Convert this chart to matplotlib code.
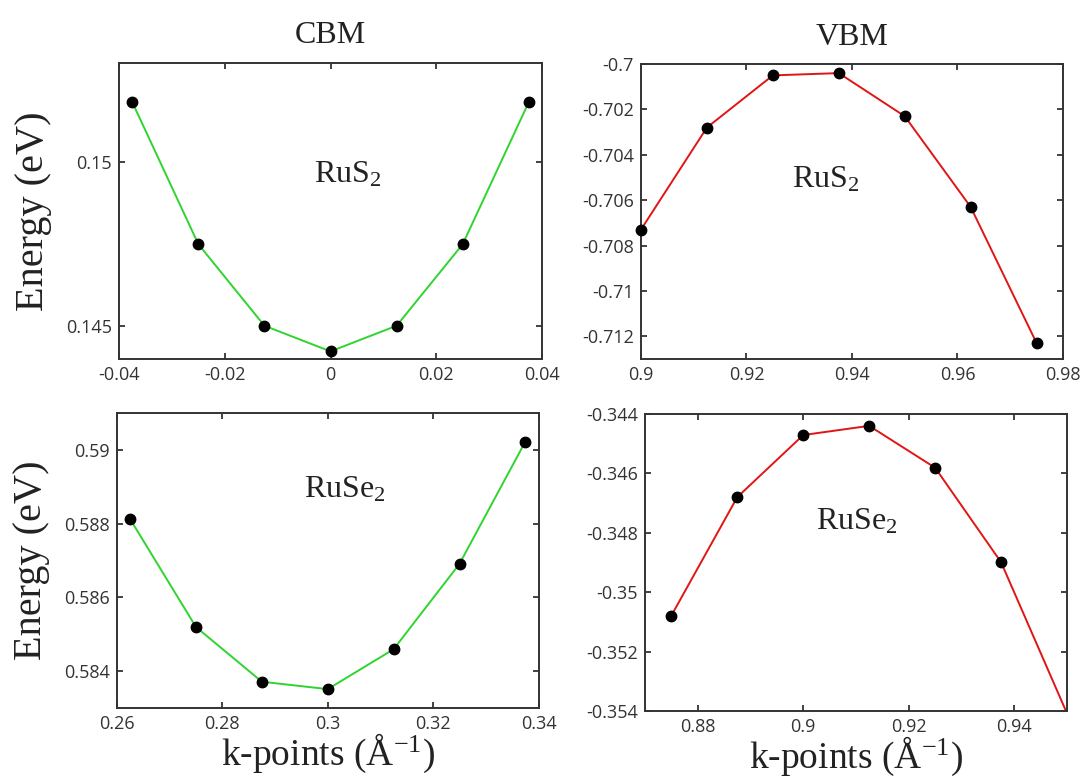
import numpy as np
import matplotlib
matplotlib.use('Agg')
import matplotlib.pyplot as plt
from matplotlib.ticker import MultipleLocator, FuncFormatter

# Datos (k en 1/A, energia en eV)
k_cbm_rus2 = [-0.0375, -0.025, -0.0125, 0.0, 0.0125, 0.025, 0.0375]
e_cbm_rus2 = [0.15181, 0.14749, 0.14501, 0.14423, 0.14501, 0.14749, 0.15181]

k_vbm_rus2 = [0.9, 0.9125, 0.925, 0.9375, 0.95, 0.9625, 0.975]
e_vbm_rus2 = [-0.7073, -0.7028, -0.7005, -0.7004, -0.7023, -0.7063, -0.7123]

k_cbm_ruse2 = [0.2625, 0.275, 0.2875, 0.3, 0.3125, 0.325, 0.3375]
e_cbm_ruse2 = [0.58812, 0.5852, 0.58372, 0.58352, 0.5846, 0.58691, 0.59022]

k_vbm_ruse2 = [0.875, 0.8875, 0.9, 0.9125, 0.925, 0.9375, 0.95]
e_vbm_ruse2 = [-0.35079, -0.3468, -0.34471, -0.3444, -0.34581, -0.34899, -0.35408]

titulos = ['CBM', 'VBM']
materiales = ['RuS$_2$', 'RuSe$_2$']

plt.rcParams['font.family'] = ['Open Sans', 'DejaVu Sans']
plt.rcParams['mathtext.fontset'] = 'custom'
plt.rcParams['mathtext.rm'] = 'Liberation Serif'
plt.rcParams['mathtext.it'] = 'Liberation Serif:italic'
serif = 'Liberation Serif'

fig = plt.figure(figsize=(10.86, 7.79), dpi=100)

# [izq, abajo, ancho, alto] en fraccion de figura
cajas = [[0.1096, 0.5392, 0.3895, 0.3800],
         [0.5902, 0.5392, 0.3886, 0.3786],
         [0.1077, 0.0907, 0.3882, 0.3795],
         [0.5939, 0.0873, 0.3886, 0.3813]]

paneles = [
    (k_cbm_rus2, e_cbm_rus2, '#2fd42f', (-0.04, 0.04), (0.144, 0.153), 0.02, 0.005, materiales[0], (0.541, 0.622)),
    (k_vbm_rus2, e_vbm_rus2, '#e01515', (0.9, 0.98), (-0.713, -0.7), 0.02, 0.002, materiales[0], (0.437, 0.607)),
    (k_cbm_ruse2, e_cbm_ruse2, '#2fd42f', (0.26, 0.34), (0.583, 0.591), 0.02, 0.002, materiales[1], (0.54, 0.738)),
    (k_vbm_ruse2, e_vbm_ruse2, '#e01515', (0.87, 0.95), (-0.354, -0.344), 0.02, 0.002, materiales[1], (0.502, 0.637)),
]

fmt = FuncFormatter(lambda v, p: f'{round(v, 6) + 0.0:g}')

for i, (k, e, color, xl, yl, dx, dy, nombre, pos) in enumerate(paneles):
    ax = fig.add_axes(cajas[i])
    k = np.array(k)
    e = np.array(e)
    ax.plot(k, e, '-', color=color, lw=1.4, zorder=2)
    dentro = (e >= yl[0]) & (e <= yl[1]) & (k >= xl[0]) & (k <= xl[1])
    ax.plot(k[dentro], e[dentro], 'o', color='black', ms=7.5, clip_on=False, zorder=3)
    ax.set_xlim(xl)
    ax.set_ylim(yl)
    ax.xaxis.set_major_locator(MultipleLocator(dx))
    ax.yaxis.set_major_locator(MultipleLocator(dy))
    ax.xaxis.set_major_formatter(fmt)
    ax.yaxis.set_major_formatter(fmt)
    ax.tick_params(direction='in', length=4, width=1.2, top=True, right=True,
                   labelsize=13, labelcolor='#333333', color='#222222', pad=5)
    for s in ax.spines.values():
        s.set_linewidth(1.4)
        s.set_color('#333333')
    ax.text(pos[0], pos[1], nombre, transform=ax.transAxes, ha='center', va='center',
            fontsize=23, family=serif, color='#222222')
    if i < 2:
        ax.set_title(titulos[i], family=serif, fontsize=23, pad=14, color='#222222')
    if i % 2 == 0:
        ax.set_ylabel('Energy (eV)', family=serif, fontsize=29, color='#222222', labelpad=10)
    if i >= 2:
        ax.set_xlabel('k-points (Å$^{-1}$)', family=serif, fontsize=27, color='#222222', labelpad=-1)

fig.savefig('out.png', dpi=100)
